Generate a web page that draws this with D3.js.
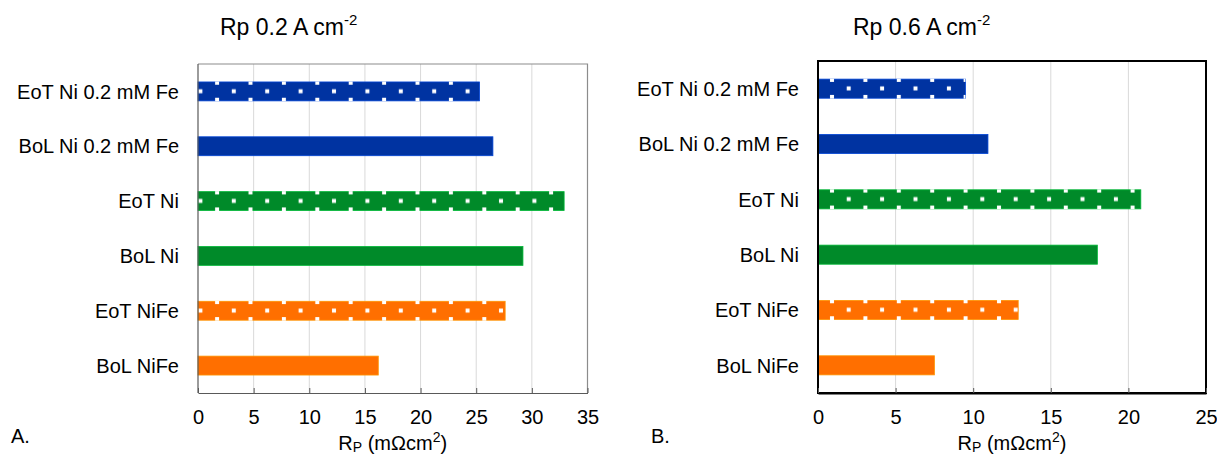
<!DOCTYPE html>
<html>
<head>
<meta charset="utf-8">
<script src="https://cdn.jsdelivr.net/npm/d3@7"></script>
<style>
  body { margin: 0; background: #fff; }
  svg { font-family: "Liberation Sans", Arial, sans-serif; }
</style>
</head>
<body>
<svg id="chart" width="1217" height="455"></svg>
<script>
// categories (top to bottom)
const categories = ["EoT Ni 0.2 mM Fe", "BoL Ni 0.2 mM Fe", "EoT Ni", "BoL Ni", "EoT NiFe", "BoL NiFe"];
const barColors = ["#0033a1", "#0033a1", "#008a29", "#008a29", "#ff6f00", "#ff6f00"];
const dotted = [true, false, true, false, true, false];

// Rp values (mOhm cm2)
const rp02 = [25.3, 26.5, 32.9, 29.2, 27.6, 16.2];
const rp06 = [9.5, 10.95, 20.8, 18.0, 12.9, 7.5];

const ticks02 = [0, 5, 10, 15, 20, 25, 30, 35];
const ticks06 = [0, 5, 10, 15, 20, 25];

const svg = d3.select("#chart");
const defs = svg.append("defs");

// motif de points blancs
function dotPattern(id, off) {
  const p = defs.append("pattern")
    .attr("id", id)
    .attr("patternUnits", "userSpaceOnUse")
    .attr("x", off).attr("y", -1.2)
    .attr("width", 33.4).attr("height", 17);
  p.append("rect").attr("x", -2).attr("y", 8.5).attr("width", 4).attr("height", 4).attr("fill", "#fff");
  p.append("rect").attr("x", 31.4).attr("y", 8.5).attr("width", 4).attr("height", 4).attr("fill", "#fff");
  p.append("rect").attr("x", 14.7).attr("y", 0).attr("width", 4).attr("height", 4).attr("fill", "#fff");
}
dotPattern("dots-a", 0);
dotPattern("dots-b", 13.7);

function panel(opt) {
  const {x0, x1, y0, y1, values, ticks, max, title, titleX, letter, letterX, pattern, frame} = opt;

  const x = d3.scaleLinear().domain([0, max]).range([x0, x1]);
  const y = d3.scaleBand().domain(categories).range([y0, y1])
    .paddingInner(0.655).paddingOuter(0.3275);

  const g = svg.append("g");

  // grille
  g.append("g").selectAll("line")
    .data(ticks.filter(t => t > 0 && t < max))
    .join("line")
    .attr("x1", d => x(d)).attr("x2", d => x(d))
    .attr("y1", y0).attr("y2", y1)
    .attr("stroke", "#d9d9d9").attr("stroke-width", 1);

  // barres
  categories.forEach((c, i) => {
    const bg = g.append("g").attr("transform", `translate(0,${y(c)})`);
    bg.append("rect")
      .attr("x", x(0)).attr("y", 0)
      .attr("width", x(values[i]) - x(0))
      .attr("height", y.bandwidth())
      .attr("fill", barColors[i])
      .attr("stroke", d3.color(barColors[i]).brighter(0.8))
      .attr("stroke-width", 0.8);
    if (dotted[i]) {
      bg.append("rect")
        .attr("x", x(0)).attr("y", -0.5)
        .attr("width", x(values[i]) - x(0))
        .attr("height", y.bandwidth() + 1)
        .attr("fill", `url(#${pattern})`);
    }
  });

  // cadre
  if (frame === "black") {
    g.append("rect")
      .attr("x", x0).attr("y", y0)
      .attr("width", x1 - x0).attr("height", y1 - y0)
      .attr("fill", "none").attr("stroke", "#000").attr("stroke-width", 2);
  } else {
    g.append("path")
      .attr("d", `M${x0},${y0}H${x1}V${y1}`)
      .attr("fill", "none").attr("stroke", "#8c8c8c").attr("stroke-width", 1.2);
    g.append("line")
      .attr("x1", x0).attr("x2", x0).attr("y1", y0).attr("y2", y1)
      .attr("stroke", "#595959").attr("stroke-width", 1.2);
  }

  // axe X
  const ax = g.append("g")
    .attr("transform", `translate(0,${y1})`)
    .call(d3.axisBottom(x).tickValues(ticks).tickSize(-5).tickPadding(17).tickSizeOuter(0));
  ax.select(".domain").attr("stroke", frame === "black" ? "#000" : "#595959")
    .attr("stroke-width", frame === "black" ? 2 : 1.2);
  ax.selectAll(".tick line").attr("stroke", "#595959");
  ax.selectAll(".tick text")
    .attr("font-size", 20).attr("fill", "#000")
    .attr("font-family", "Liberation Sans, Arial, sans-serif");

  // etiquettes des categories
  g.append("g").selectAll("text")
    .data(categories)
    .join("text")
    .attr("x", x0 - 19)
    .attr("y", d => y(d) + y.bandwidth() / 2)
    .attr("dy", "0.36em")
    .attr("text-anchor", "end")
    .attr("font-size", 20)
    .text(d => d);

  // titre de l'axe
  const xt = g.append("text")
    .attr("x", (x0 + x1) / 2).attr("y", 450)
    .attr("text-anchor", "middle")
    .attr("font-size", 20);
  xt.append("tspan").text("R");
  xt.append("tspan").attr("font-size", 14).attr("dy", 2).text("P");
  xt.append("tspan").attr("dy", -2).text(" (mΩcm");
  xt.append("tspan").attr("font-size", 14).attr("dy", -8).text("2");
  xt.append("tspan").attr("dy", 8).text(")");

  // titre
  const t = g.append("text")
    .attr("x", titleX).attr("y", 35)
    .attr("font-size", 23);
  t.append("tspan").text(title);
  t.append("tspan").attr("font-size", 15).attr("dy", -10).text("-2");

  g.append("text")
    .attr("x", letterX).attr("y", 443)
    .attr("font-size", 20)
    .text(letter);
}

panel({x0: 198, x1: 587.5, y0: 64, y1: 393, values: rp02, ticks: ticks02, max: 35,
  title: "Rp 0.2 A cm", titleX: 220, letter: "A.", letterX: 11, pattern: "dots-a", frame: "gray"});
panel({x0: 818, x1: 1206, y0: 61, y1: 393, values: rp06, ticks: ticks06, max: 25,
  title: "Rp 0.6 A cm", titleX: 853, letter: "B.", letterX: 651, pattern: "dots-b", frame: "black"});
</script>
</body>
</html>
